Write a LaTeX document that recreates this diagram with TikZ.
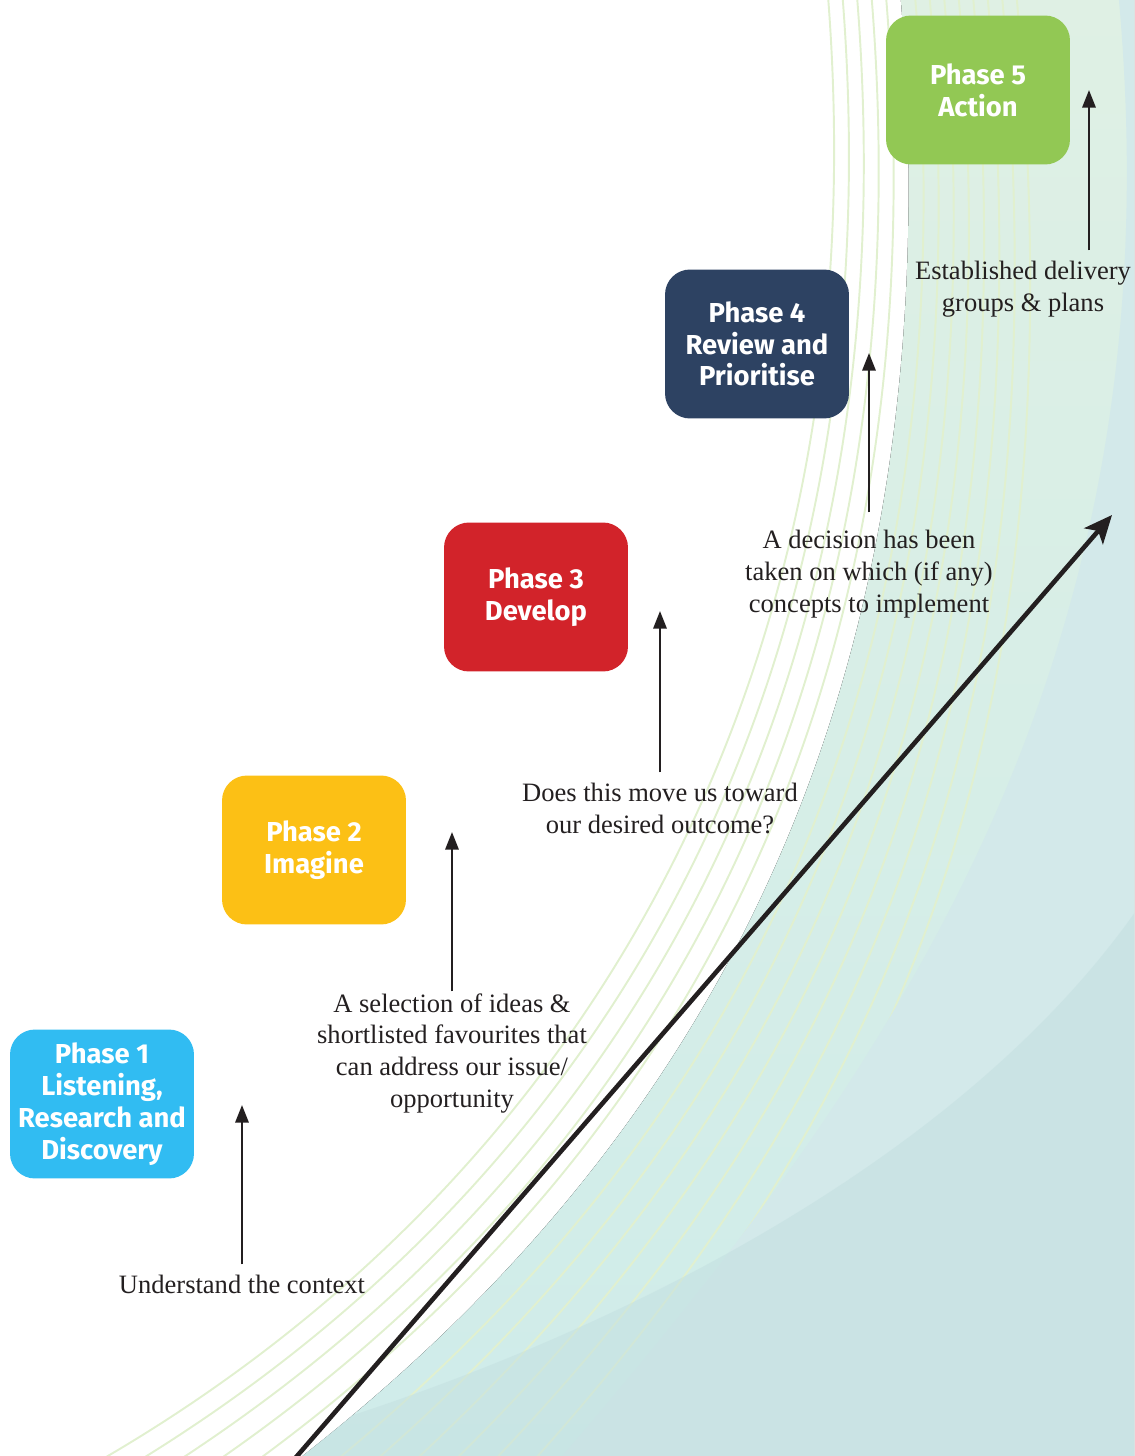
\documentclass[tikz,border=0pt]{standalone}
\usepackage{fontspec}
\setmainfont{Liberation Serif}
\newfontfamily\phasefont{Fira Sans}
\usetikzlibrary{arrows.meta,positioning}

\definecolor{listenblue}{HTML}{31BCF2}
\definecolor{imagineyellow}{HTML}{FCC015}
\definecolor{developred}{HTML}{D2232A}
\definecolor{reviewnavy}{HTML}{2D4262}
\definecolor{actiongreen}{HTML}{92C854}
\definecolor{ink}{HTML}{231F20}
\definecolor{streak}{HTML}{E1F0CF}
\definecolor{washtop}{HTML}{DFF0E4}
\definecolor{washbottom}{HTML}{CFECEA}
\definecolor{drift}{HTML}{D3E9EA}
\definecolor{deep}{HTML}{C3DFE0}

\begin{document}
\begin{tikzpicture}
 [
  x=0.02cm, y=-0.02cm,
  phase/.style={rectangle, rounded corners=0.5cm, minimum width=3.68cm, minimum height=2.98cm, inner sep=0pt, align=center, text=white, font=\phasefont\bfseries\fontsize{15.6}{18.1}\selectfont},
  note/.style={anchor=north, align=center, inner sep=0pt, text=ink, font=\fontsize{15.1}{18.1}\selectfont},
  rise/.style={draw=ink, line width=1.4pt, -{Triangle[length=10pt,width=7.5pt]}, shorten <=6pt},
  ramp/.style={draw=ink, line width=2.6pt, -{Stealth[length=16pt,width=14pt,inset=4pt]}},
  streakline/.style={draw=streak, line width=1.1pt},
 ]
  \useasboundingbox (0,0) rectangle (1134,1456);

  % backdrop
  \begin{scope}
    \clip (0,0) rectangle (1134,1456);
    \fill[top color=washtop, bottom color=washbottom] (900,-10) .. controls (960,700) and (700,1150) .. (287,1468) -- (1150,1470) -- (1150,-10) -- cycle;
    \foreach \s in {-5,-4,-3,-2,-1,1,2,3,4,5,6,7,8}
      \draw[streakline] ({900+14.5*\s},-10) .. controls ({960+15*\s},700) and ({700+28*\s},{1150-10*\s}) .. ({287+40*\s},1468);
    \begin{scope}
      \clip (900,-10) .. controls (960,700) and (700,1150) .. (287,1468) -- (1150,1470) -- (1150,-10) -- cycle;
      \fill[drift] (1118,-10) .. controls (1180,650) and (907,1058) .. (552,1468) -- (1150,1470) -- (1150,-10) -- cycle;
      \fill[deep, fill opacity=0.5] (1140,905) .. controls (950,1180) and (550,1370) .. (200,1460) -- (150,1470) -- (1150,1470) -- cycle;
    \end{scope}
  \end{scope}

  % phases
  \node[phase, fill=listenblue] (listen) at (102,1104) {Phase 1\\Listening,\\Research and\\Discovery};
  \node[phase, fill=imagineyellow] (imagine) at (314,850) {Phase 2\\Imagine};
  \node[phase, fill=developred] (develop) at (536,597) {Phase 3\\Develop};
  \node[phase, fill=reviewnavy] (review) at (757,344) {Phase 4\\Review and\\Prioritise};
  \node[phase, fill=actiongreen] (action) at (978,90) {Phase 5\\Action};

  % outcomes under each step
  \node[note] (context) at (242,1275) {Understand the context};
  \node[note] (ideas) at (452,993) {A selection of ideas \&\\shortlisted favourites that\\can address our issue/\\opportunity};
  \node[note] (outcome) at (660,783) {Does this move us toward\\our desired outcome?};
  \node[note] (decision) at (869,530) {A decision has been\\taken on which (if any)\\concepts to implement};
  \node[note] (delivery) at (1023,261) {Established delivery\\groups \& plans};

  \coordinate (listentip) at (242,1105);
  \coordinate (imaginetip) at (452,832);
  \coordinate (developtip) at (660,611);
  \coordinate (reviewtip) at (869,353);
  \coordinate (actiontip) at (1089,90);

  \draw[rise] (context.north) -- (listentip);
  \draw[rise, shorten <=1pt] (ideas.north) -- (imaginetip);
  \draw[rise] (outcome.north) -- (developtip);
  \draw[rise, shorten <=10pt] (decision.north) -- (reviewtip);
  \draw[rise] (delivery.north -| actiontip) -- (actiontip);

  % rising arrow
  \coordinate (rampfoot) at (291,1463);
  \coordinate (ramptop) at (1112,515);
  \draw[ramp] (rampfoot) -- (ramptop);
\end{tikzpicture}
\end{document}
